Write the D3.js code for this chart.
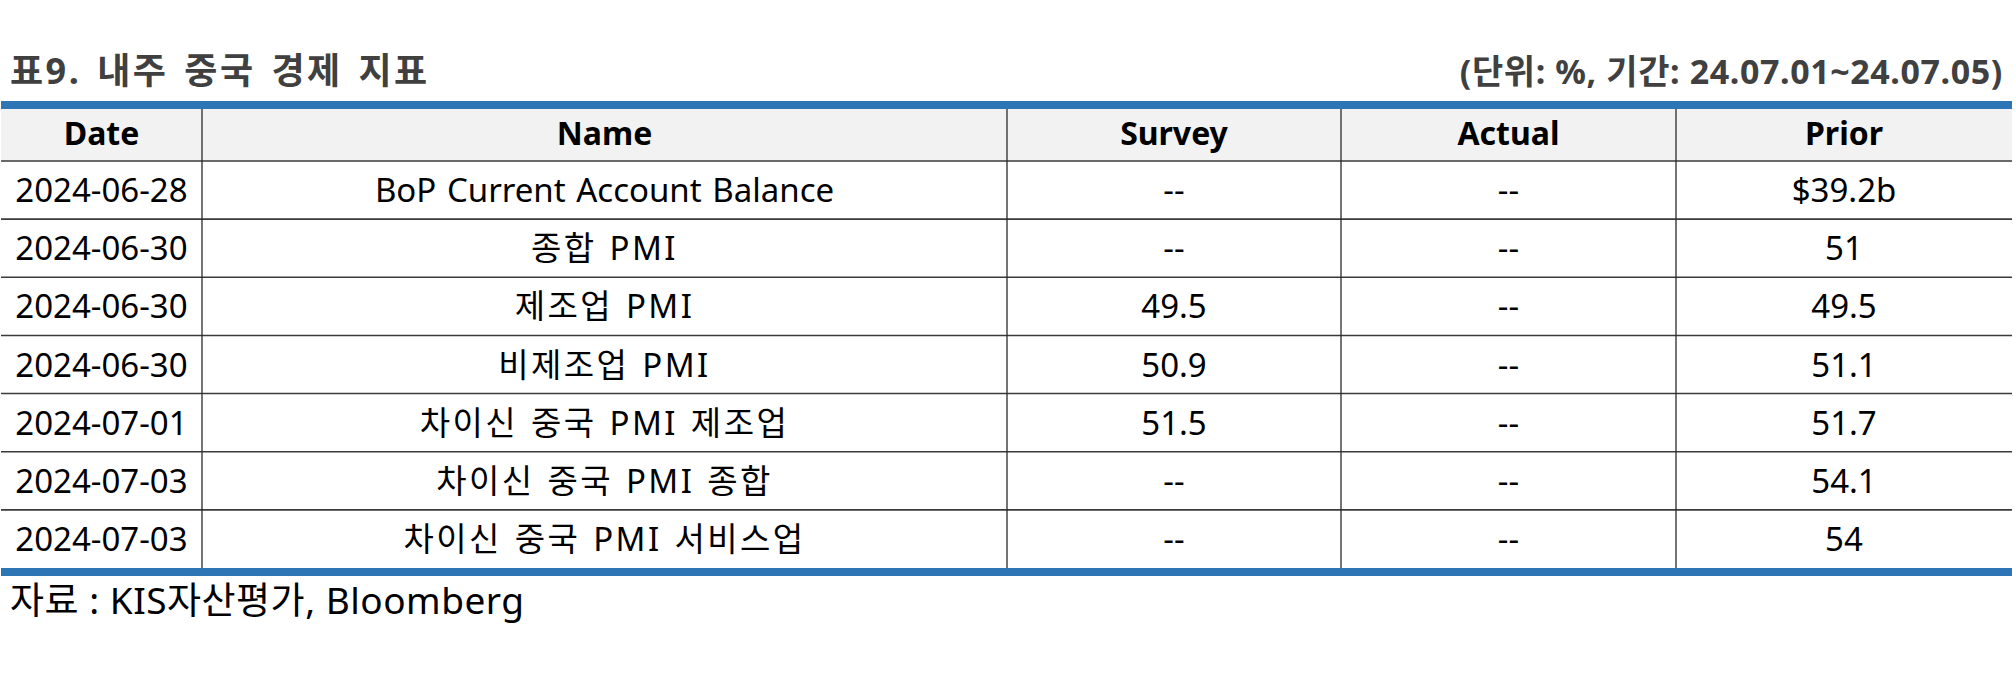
<!DOCTYPE html>
<html><head><meta charset="utf-8">
<script src="https://cdn.jsdelivr.net/npm/d3@7"></script>
<style>html,body{margin:0;padding:0;background:#fff;}</style>
</head><body>
<svg id="c" width="2016" height="676"></svg>
<script>
const title = "표9. 내주 중국 경제 지표";
const subtitle = "(단위: %, 기간: 24.07.01~24.07.05)";
const source = "자료 : KIS자산평가, Bloomberg";
const headers = ["Date", "Name", "Survey", "Actual", "Prior"];
const dates = ["2024-06-28","2024-06-30","2024-06-30","2024-06-30","2024-07-01","2024-07-03","2024-07-03"];
const names = ["BoP Current Account Balance","종합 PMI","제조업 PMI","비제조업 PMI","차이신 중국 PMI 제조업","차이신 중국 PMI 종합","차이신 중국 PMI 서비스업"];
const survey = ["--","--","49.5","50.9","51.5","--","--"];
const actual = ["--","--","--","--","--","--","--"];
const prior = ["$39.2b","51","49.5","51.1","51.7","54.1","54"];

const FONT = "'Noto Sans','Noto Sans CJK KR',sans-serif";
const svg = d3.select("#c");
const colEdges = [1, 202, 1007, 1341, 1676, 2012];
const x = d3.scaleOrdinal().domain(headers).range(colEdges.slice(0,5));
const xEnd = d3.scaleOrdinal().domain(headers).range(colEdges.slice(1));
const y = d3.scaleBand().domain(d3.range(dates.length)).range([161, 568]);
const left = 1, right = 2012, headTop = 109, headBot = 161;
const hasHangul = s => /[\uac00-\ud7a3]/.test(s);

// title
svg.append("text").attr("x", 10).attr("y", 84).text(title)
  .attr("font-family", FONT).attr("font-weight", "bold").attr("font-size", 36)
  .attr("letter-spacing", 2.5).attr("word-spacing", 4).attr("fill", "#404040");
svg.append("text").attr("x", 2003).attr("y", 84).attr("text-anchor", "end").text(subtitle)
  .attr("font-family", FONT).attr("font-weight", "bold").attr("font-size", 34)
  .attr("letter-spacing", 0.6).attr("fill", "#404040");

// header background
svg.append("rect").attr("x", left).attr("y", headTop).attr("width", right-left).attr("height", headBot-headTop).attr("fill", "#f2f2f2");

// horizontal lines
const hLines = [headBot].concat(d3.range(1, dates.length).map(i => y(i)));
svg.selectAll("line.h").data(hLines).join("line").attr("class","h")
  .attr("x1", left).attr("x2", right).attr("y1", d => d).attr("y2", d => d)
  .attr("stroke", "#3a3a3a").attr("stroke-width", 1.6);

// vertical lines
svg.selectAll("line.v").data(headers.slice(1)).join("line").attr("class","v")
  .attr("x1", d => x(d)).attr("x2", d => x(d)).attr("y1", headTop).attr("y2", 568)
  .attr("stroke", "#2a2a2a").attr("stroke-width", 1.3);

// blue bars
svg.append("rect").attr("x", left).attr("y", 101).attr("width", right-left).attr("height", 8).attr("fill", "#2e75b6");
svg.append("rect").attr("x", left).attr("y", 568).attr("width", right-left).attr("height", 8).attr("fill", "#2e75b6");

// header text
svg.selectAll("text.hd").data(headers).join("text").attr("class","hd")
  .attr("x", d => (x(d)+xEnd(d))/2).attr("y", 145).attr("text-anchor","middle")
  .attr("font-family", FONT).attr("font-weight","bold").attr("font-size", 32).attr("fill","#000").text(d => d);

// body
const cols = [dates, names, survey, actual, prior];
const cells = [];
cols.forEach((arr, ci) => arr.forEach((v, ri) => cells.push({c: headers[ci], r: ri, v})));
svg.selectAll("text.cell").data(cells).join("text").attr("class","cell")
  .attr("x", d => (x(d.c)+xEnd(d.c))/2).attr("y", d => y(d.r) + y.bandwidth()/2 + 12)
  .attr("text-anchor","middle").attr("font-family", FONT).attr("font-size", 33)
  .attr("letter-spacing", d => hasHangul(d.v) ? 2.4 : 0)
  .attr("word-spacing", d => hasHangul(d.v) ? 2 : 2)
  .attr("fill","#000").text(d => d.v);

// source
svg.append("text").attr("x", 10).attr("y", 614).text(source)
  .attr("font-family", FONT).attr("font-size", 37).attr("letter-spacing", 0.5).attr("fill", "#000");
</script>
</body></html>
